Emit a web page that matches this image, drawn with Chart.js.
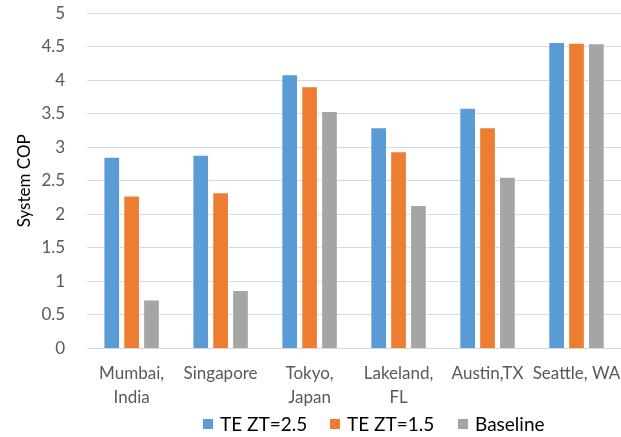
<!DOCTYPE html>
<html>
<head>
<meta charset="utf-8">
<script src="https://cdn.jsdelivr.net/npm/chart.js@4"></script>
<style>
  html, body { margin: 0; padding: 0; background: #ffffff; }
  #wrap { width: 621px; height: 437px; position: relative; }
</style>
</head>
<body>
<div id="wrap"><canvas id="c"></canvas></div>
<script>
// Cities (multi-line labels split into arrays)
const categories = [
  ['Mumbai,', 'India'],
  'Singapore',
  ['Tokyo,', 'Japan'],
  ['Lakeland,', 'FL'],
  'Austin,TX',
  'Seattle, WA'
];

// System COP per city
const te25 = [2.86, 2.89, 4.09, 3.30, 3.59, 4.57];
const te15 = [2.28, 2.33, 3.91, 2.94, 3.30, 4.56];
const baseline = [0.73, 0.87, 3.54, 2.14, 2.56, 4.55];

const seriesNames = ['TE ZT=2.5', 'TE ZT=1.5', 'Baseline'];
const seriesColors = ['#5B9BD5', '#ED7D31', '#A5A5A5'];
const axisTitle = 'System COP';

const FONT = 'Lato, "Open Sans", sans-serif';

// Legend row drawn under the axis: square swatch + label per dataset
const legendRow = {
  id: 'legendRow',
  afterDraw(chart) {
    const ctx = chart.ctx;
    const y = 424;
    const starts = [203, 330, 458];
    ctx.save();
    ctx.font = '19px ' + FONT;
    ctx.textBaseline = 'middle';
    ctx.textAlign = 'left';
    chart.data.datasets.forEach((ds, i) => {
      ctx.fillStyle = ds.backgroundColor;
      ctx.fillRect(starts[i], y - 5, 10, 10);
      ctx.fillStyle = '#000000';
      ctx.fillText(ds.label, starts[i] + 17, y + 1);
    });
    ctx.restore();
  }
};

new Chart(document.getElementById('c'), {
  type: 'bar',
  data: {
    labels: categories,
    datasets: [te25, te15, baseline].map((vals, i) => ({
      label: seriesNames[i],
      data: vals,
      backgroundColor: seriesColors[i],
      borderColor: 'rgba(255,255,255,0.6)',
      borderWidth: 1,
      categoryPercentage: 0.67,
      barPercentage: 0.84
    }))
  },
  plugins: [legendRow],
  options: {
    responsive: true,
    maintainAspectRatio: false,
    animation: false,
    devicePixelRatio: 1,
    layout: { padding: { top: 2, right: 0, left: 14, bottom: 15 } },
    plugins: {
      legend: { display: false },
      tooltip: { enabled: false }
    },
    scales: {
      x: {
        grid: { display: false, drawTicks: false },
        border: { display: true, color: '#D9D9D9', width: 1 },
        ticks: {
          font: { family: FONT, size: 17, lineHeight: 1.4 },
          color: '#595959',
          padding: 13,
          maxRotation: 0,
          autoSkip: false
        },
        afterFit(scale) {
          scale.paddingLeft = 0;
          scale.paddingRight = 0;
        }
      },
      y: {
        min: 0,
        max: 5,
        grid: { color: '#D9D9D9', lineWidth: 1, drawTicks: true, tickLength: 19, tickColor: 'rgba(0,0,0,0)' },
        border: { display: false },
        ticks: {
          stepSize: 0.5,
          font: { family: FONT, size: 17 },
          color: '#595959',
          padding: 3,
          callback: (v) => String(v)
        },
        title: {
          display: true,
          text: axisTitle,
          font: { family: FONT, size: 17 },
          color: '#000000',
          padding: { top: 0, bottom: 4 }
        }
      }
    }
  }
});
</script>
</body>
</html>
